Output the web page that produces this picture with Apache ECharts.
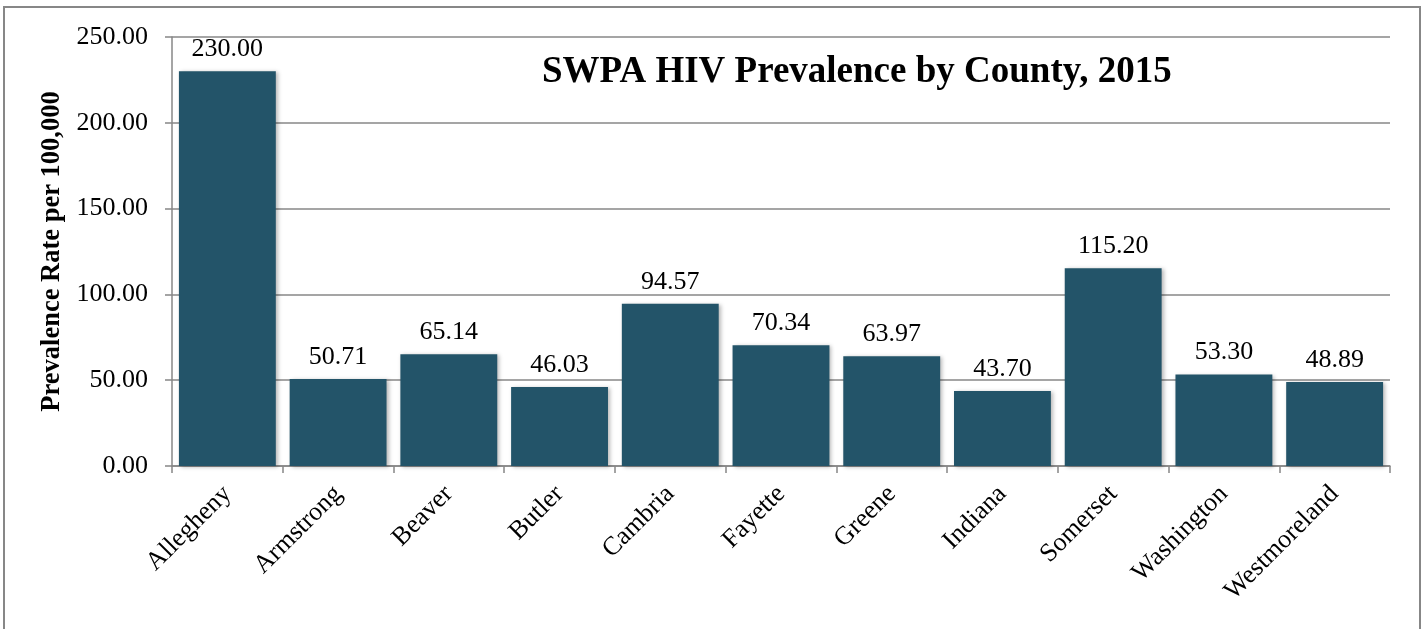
<!DOCTYPE html>
<html>
<head>
<meta charset="utf-8">
<script src="https://cdn.jsdelivr.net/npm/echarts@6/dist/echarts.min.js"></script>
<style>
  html, body { margin: 0; padding: 0; background: #fff; }
  #chart { width: 1426px; height: 629px; }
</style>
</head>
<body>
<div id="chart"></div>
<script>
// SWPA HIV prevalence per 100,000 by county, 2015
const counties = ['Allegheny', 'Armstrong', 'Beaver', 'Butler', 'Cambria', 'Fayette',
  'Greene', 'Indiana', 'Somerset', 'Washington', 'Westmoreland'];
const prevalence = [230.00, 50.71, 65.14, 46.03, 94.57, 70.34, 63.97, 43.70, 115.20, 53.30, 48.89];
const yTicks = { min: 0, max: 250, interval: 50 };

const serif = '"Liberation Serif", "DejaVu Serif", serif';
const gray = '#878787';

const chart = echarts.init(document.getElementById('chart'), null, { renderer: 'canvas' });
chart.setOption({
  animation: false,
  backgroundColor: '#ffffff',
  title: {
    text: 'SWPA HIV Prevalence by County, 2015',
    left: 537,
    top: 49,
    textStyle: { fontFamily: serif, fontWeight: 'bold', fontSize: 37, color: '#000' }
  },
  graphic: [{
    type: 'rect',
    shape: { x: 4, y: 7, width: 1416, height: 640 },
    style: { fill: 'none', stroke: gray, lineWidth: 2 },
    silent: true
  }],
  grid: { left: 172, right: 36, top: 37, bottom: 163 },
  xAxis: {
    type: 'category',
    data: counties,
    axisLine: { show: true, lineStyle: { color: gray, width: 1.5 } },
    axisTick: { show: true, alignWithLabel: false, length: 7, lineStyle: { color: gray, width: 1.5 } },
    axisLabel: { rotate: 45, margin: 24, fontFamily: serif, fontSize: 26, color: '#000', interval: 0 }
  },
  yAxis: {
    type: 'value',
    min: yTicks.min,
    max: yTicks.max,
    interval: yTicks.interval,
    name: 'Prevalence Rate per 100,000',
    nameLocation: 'middle',
    nameGap: 106,
    nameTextStyle: { fontFamily: serif, fontWeight: 'bold', fontSize: 26.5, color: '#000' },
    axisLine: { show: true, lineStyle: { color: gray, width: 1.5 } },
    axisTick: { show: true, length: 7, lineStyle: { color: gray, width: 1.5 } },
    axisLabel: { margin: 24, fontFamily: serif, fontSize: 26, color: '#000',
      formatter: v => v.toFixed(2) },
    splitLine: { show: true, lineStyle: { color: gray, width: 1.5 } }
  },
  series: [{
    type: 'bar',
    data: prevalence,
    barCategoryGap: '12.5%',
    itemStyle: {
      color: '#235469',
      shadowColor: 'rgba(0,0,0,0.28)',
      shadowBlur: 4,
      shadowOffsetX: 2,
      shadowOffsetY: 1
    },
    label: {
      show: true,
      position: 'top',
      distance: 9,
      fontFamily: serif,
      fontSize: 26,
      color: '#000',
      formatter: p => p.value.toFixed(2)
    }
  }]
});
</script>
</body>
</html>
